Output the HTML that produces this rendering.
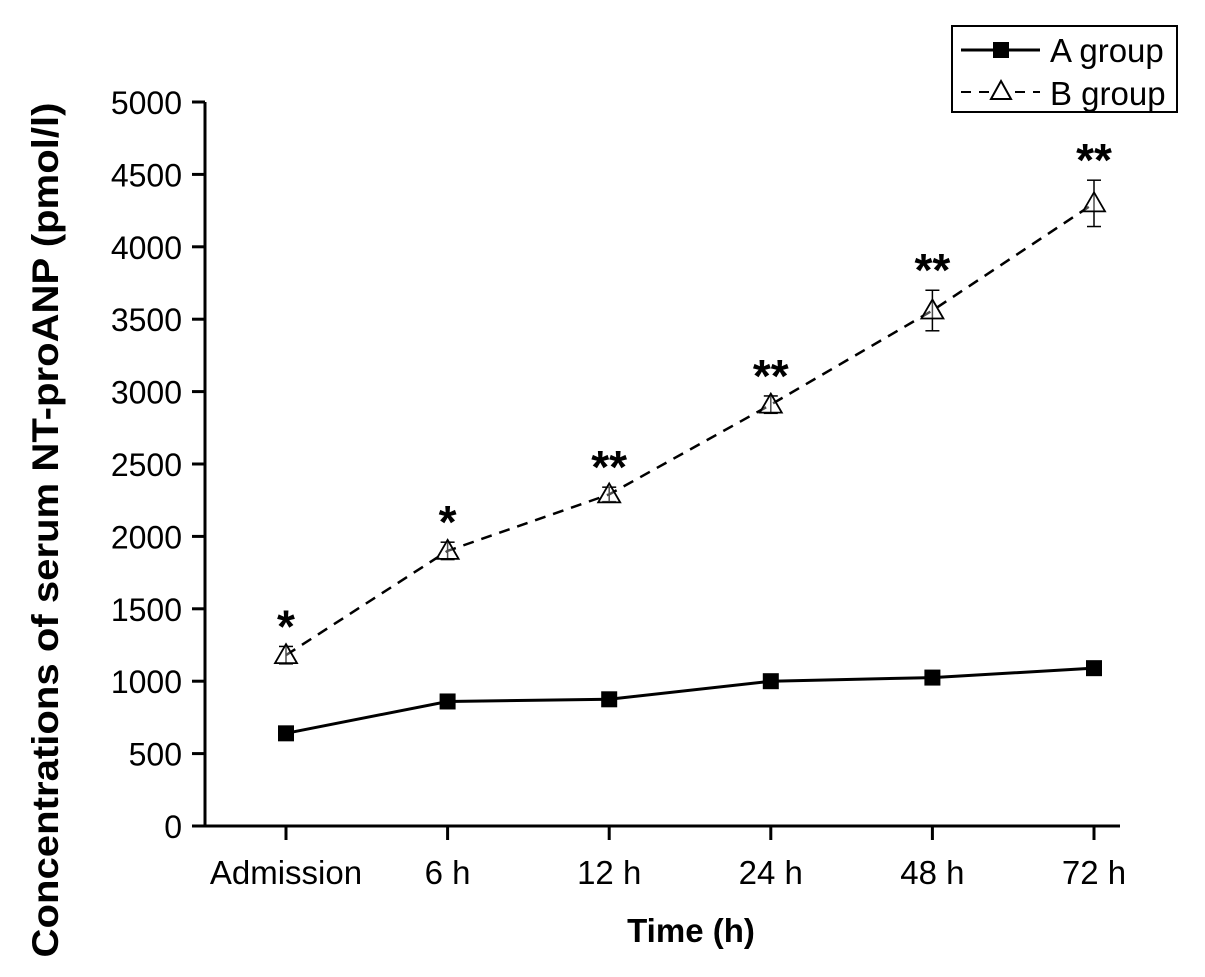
<!DOCTYPE html>
<html><head><meta charset="utf-8"><style>
body{margin:0;background:#fff;}
svg text{font-family:"Liberation Sans",Arial,sans-serif;fill:#000;}
</style></head><body>
<svg id="chart" width="1205" height="972">
<g id="axes"></g><g id="marks"></g>
<text x="0" y="0" transform="translate(58,530) rotate(-90)" text-anchor="middle" font-size="37" font-weight="bold" textLength="855" lengthAdjust="spacingAndGlyphs">Concentrations of serum NT-proANP (pmol/l)</text>
<text x="691" y="942" text-anchor="middle" font-size="33" font-weight="bold">Time (h)</text>
<g>
<rect x="952" y="26" width="225" height="86" fill="#fff" stroke="#000" stroke-width="2"/>
<line x1="961" y1="50" x2="1040" y2="50" stroke="#000" stroke-width="3"/>
<rect x="993" y="42" width="16" height="16" fill="#000"/>
<text x="1050" y="62" font-size="33">A group</text>
<line x1="961" y1="92" x2="1040" y2="92" stroke="#000" stroke-width="2" stroke-dasharray="10,8"/>
<polygon points="1001,81 1011,99 991,99" fill="#fff" stroke="#000" stroke-width="2"/>
<text x="1050" y="105" font-size="33">B group</text>
</g>
</svg>
<script>
const categories=["Admission","6 h","12 h","24 h","48 h","72 h"];
const seriesA=[640,860,875,1000,1025,1090];
const seriesB=[1180,1900,2290,2910,3560,4300];
const errorB=[60,60,50,60,140,160];
const signif=["*","*","**","**","**","**"];
const yTicks=[0,500,1000,1500,2000,2500,3000,3500,4000,4500,5000];
const NS="http://www.w3.org/2000/svg";
const xS=i=>286+i*161.6;
const yS=v=>826-v*(724/5000);
function mk(tag,attrs,parent,text){const e=document.createElementNS(NS,tag);for(const k in attrs)e.setAttribute(k,attrs[k]);if(text!==undefined)e.textContent=text;parent.appendChild(e);return e;}
const ax=document.getElementById('axes'),mg=document.getElementById('marks');
let e=mk('line',{x1:205,y1:yS(5000),x2:205,y2:827,stroke:'#000','stroke-width':3},ax);


e=mk('line',{x1:192,y1:826,x2:1120,y2:826,stroke:'#000','stroke-width':3},ax);


yTicks.forEach(t=>{mk('line',{x1:192,y1:yS(t),x2:205,y2:yS(t),stroke:'#000','stroke-width':3},ax);
e=mk('text',{x:182,y:yS(t)+12,'text-anchor':'end','font-size':32},ax,String(t));

});
categories.forEach((c,i)=>{mk('line',{x1:xS(i),y1:826,x2:xS(i),y2:840,stroke:'#000','stroke-width':3},ax);
e=mk('text',{x:xS(i),y:884,'text-anchor':'middle','font-size':33},ax,c);

});
e=mk('polyline',{points:seriesB.map((v,i)=>xS(i)+','+yS(v)).join(' '),fill:'none',stroke:'#000','stroke-width':2.5,'stroke-dasharray':'11,8'},mg);


e=mk('polyline',{points:seriesA.map((v,i)=>xS(i)+','+yS(v)).join(' '),fill:'none',stroke:'#000','stroke-width':3},mg);


seriesA.forEach((v,i)=>{e=mk('rect',{x:xS(i)-8,y:yS(v)-8,width:16,height:16,fill:'#000'},mg);

});
seriesB.forEach((v,i)=>{const x=xS(i),y=yS(v),t=yS(v+errorB[i]),b=yS(v-errorB[i]);
mk('line',{x1:x,y1:t,x2:x,y2:b,stroke:'#000','stroke-width':1.5},mg);
mk('line',{x1:x-7,y1:t,x2:x+7,y2:t,stroke:'#000','stroke-width':1.5},mg);
mk('line',{x1:x-7,y1:b,x2:x+7,y2:b,stroke:'#000','stroke-width':1.5},mg);
e=mk('polygon',{points:`${x},${y-11} ${x+11},${y+8} ${x-11},${y+8}`,fill:'#fff','fill-opacity':0.3,stroke:'#000','stroke-width':1.8},mg);


e=mk('text',{x:x,y:t-4,'text-anchor':'middle','font-size':46,'font-weight':'bold'},mg,signif[i]);

});
</script>
</body></html>
